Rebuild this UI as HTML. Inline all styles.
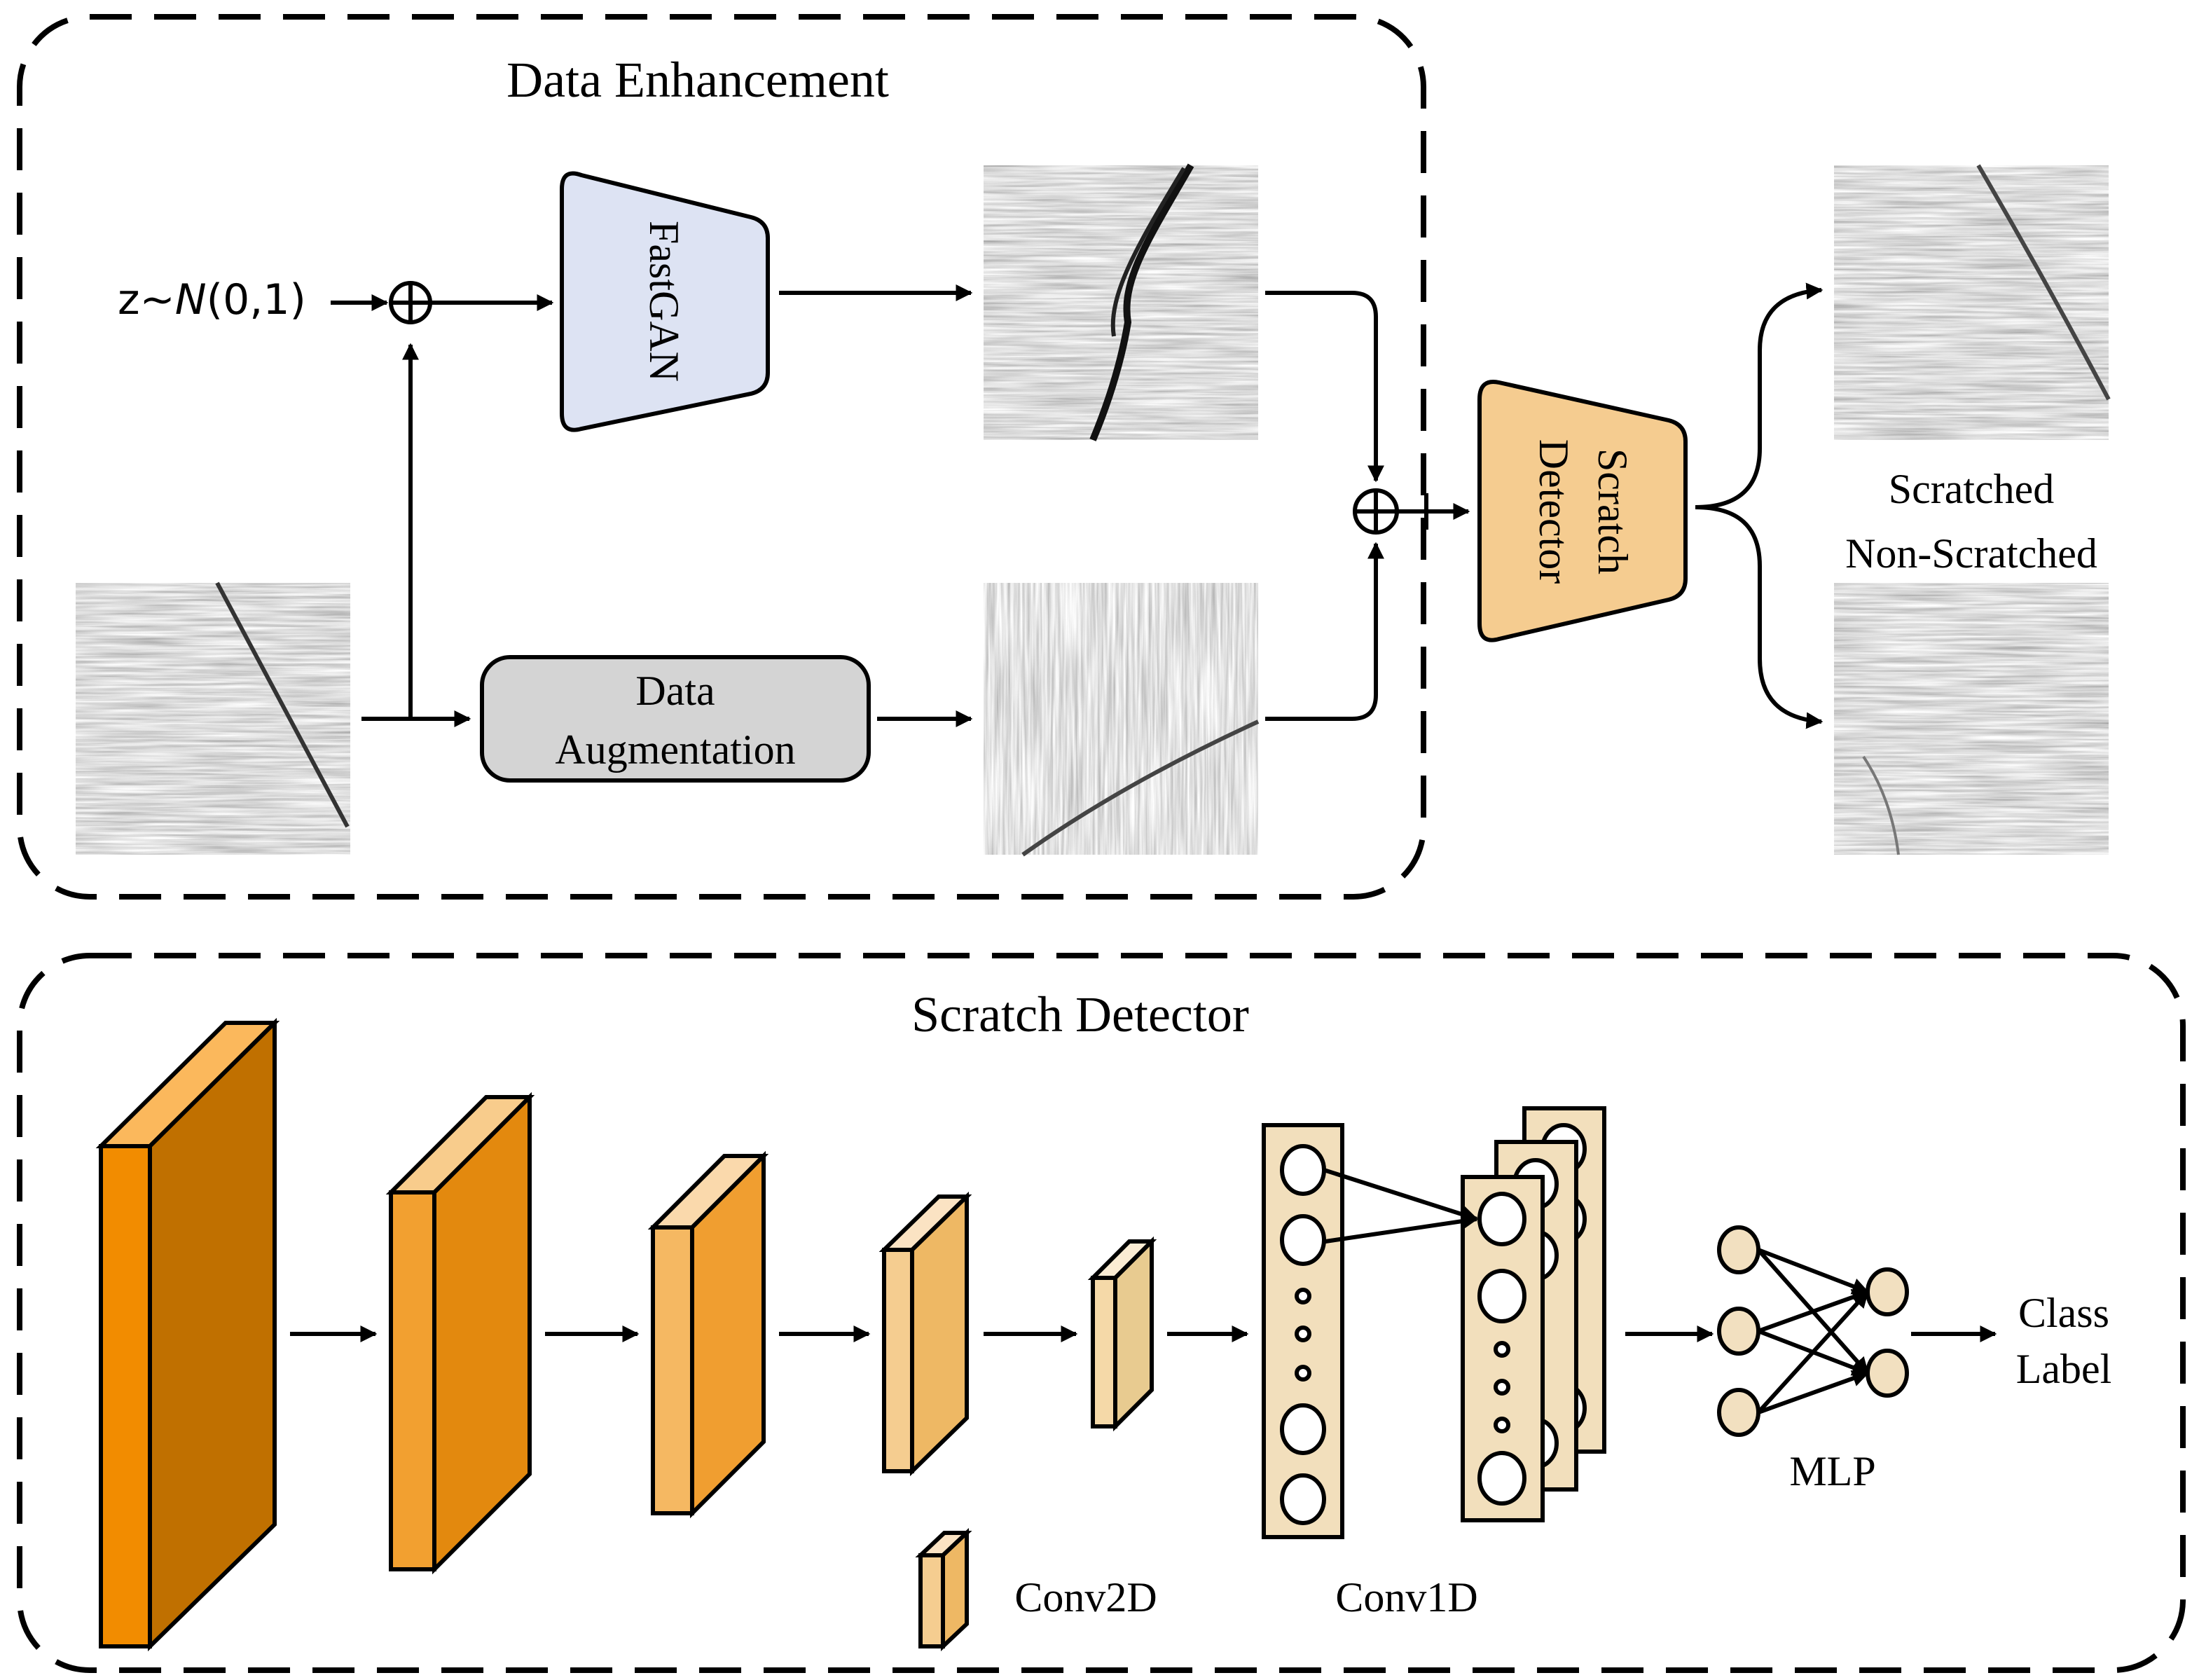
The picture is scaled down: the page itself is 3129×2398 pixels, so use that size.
<!DOCTYPE html>
<html><head><meta charset="utf-8"><style>html,body{margin:0;padding:0;background:#fff}svg{display:block}</style></head><body>
<svg width="3129" height="2398" viewBox="0 0 1564.5 1199" xmlns="http://www.w3.org/2000/svg" font-family="'Liberation Serif', serif">
<defs>
<marker id="ah" viewBox="0 0 10 10" refX="9" refY="5" markerWidth="4" markerHeight="4" orient="auto" markerUnits="strokeWidth"><path d="M0,0 L10,5 L0,10 z" fill="#000"/></marker>
<filter id="th" x="0" y="0" width="1" height="1"><feTurbulence type="fractalNoise" baseFrequency="0.015 0.5" numOctaves="3" seed="3"/><feColorMatrix type="matrix" values="0.8 0 0 0 0.32  0.8 0 0 0 0.32  0.8 0 0 0 0.32  0 0 0 0 1"/></filter>
<filter id="tv" x="0" y="0" width="1" height="1"><feTurbulence type="fractalNoise" baseFrequency="0.5 0.015" numOctaves="3" seed="5"/><feColorMatrix type="matrix" values="0.8 0 0 0 0.36  0.8 0 0 0 0.36  0.8 0 0 0 0.36  0 0 0 0 1"/></filter>
</defs>
<rect width="1564.5" height="1199" fill="#fff"/>
<rect x="14" y="12" width="1002" height="628" rx="50" fill="none" stroke="#000" stroke-width="4" stroke-dasharray="30 16"/>
<rect x="14" y="682" width="1544" height="510" rx="50" fill="none" stroke="#000" stroke-width="4" stroke-dasharray="30 16"/>
<text x="498" y="69" font-size="36" text-anchor="middle">Data Enhancement</text>
<text x="771" y="736" font-size="36" text-anchor="middle">Scratch Detector</text>
<rect x="54" y="416" width="196" height="194" filter="url(#th)"/>
<path d="M155,416 Q200,500 248,590" stroke="#333" stroke-width="3" fill="none"/>
<rect x="702" y="118" width="196" height="196" filter="url(#th)"/>
<path d="M850,118 C820,170 800,200 805,230 C800,260 790,290 780,314" stroke="#111" stroke-width="5" fill="none"/>
<path d="M845,120 C815,170 790,210 795,240" stroke="#222" stroke-width="3" fill="none"/>
<rect x="702" y="416" width="196" height="194" filter="url(#tv)"/>
<path d="M730,610 Q800,560 898,515" stroke="#444" stroke-width="3" fill="none"/>
<rect x="1309" y="118" width="196" height="196" filter="url(#th)"/>
<path d="M1412,118 Q1460,200 1505,285" stroke="#444" stroke-width="3" fill="none"/>
<rect x="1309" y="416" width="196" height="194" filter="url(#th)"/>
<path d="M1330,540 Q1350,570 1355,610" stroke="#777" stroke-width="2" fill="none"/>
<path d="M401,135 Q401,120 415,125 L536,155 Q548,158 548,170 L548,266 Q548,278 536,281 L415,306 Q401,310 401,295 Z" fill="#dde3f3" stroke="#000" stroke-width="3"/>
<text transform="translate(464,215) rotate(90)" font-size="30" text-anchor="middle">FastGAN</text>
<path d="M1056,285 Q1056,270 1070,273 L1191,300 Q1203,303 1203,315 L1203,413 Q1203,425 1191,428 L1070,456 Q1056,460 1056,445 Z" fill="#f5cc90" stroke="#000" stroke-width="3"/>
<text transform="translate(1141,365) rotate(90)" font-size="30" text-anchor="middle">Scratch</text>
<text transform="translate(1099,365) rotate(90)" font-size="30" text-anchor="middle">Detector</text>
<rect x="344" y="469" width="276" height="88" rx="20" fill="#d4d4d4" stroke="#000" stroke-width="3"/>
<text x="482" y="503" font-size="30" text-anchor="middle">Data</text>
<text x="482" y="545" font-size="30" text-anchor="middle">Augmentation</text>
<text x="84" y="224" font-size="30" font-family="'DejaVu Sans', sans-serif">z~<tspan font-style="italic">N</tspan>(0,1)</text>
<g stroke="#000" stroke-width="3" fill="none">
<line x1="236" y1="216" x2="276" y2="216" marker-end="url(#ah)"/>
<circle cx="293" cy="216" r="14"/><line x1="279" y1="216" x2="307" y2="216"/><line x1="293" y1="202" x2="293" y2="230"/>
<line x1="307" y1="216" x2="394" y2="216" marker-end="url(#ah)"/>
<line x1="293" y1="513" x2="293" y2="246" marker-end="url(#ah)"/>
<line x1="258" y1="513" x2="335" y2="513" marker-end="url(#ah)"/>
<line x1="626" y1="513" x2="693" y2="513" marker-end="url(#ah)"/>
<line x1="556" y1="209" x2="693" y2="209" marker-end="url(#ah)"/>
<path d="M903,209 L965,209 Q982,209 982,226 L982,343" marker-end="url(#ah)"/>
<path d="M903,513 L965,513 Q982,513 982,496 L982,388" marker-end="url(#ah)"/>
<circle cx="982" cy="365" r="15"/><line x1="967" y1="365" x2="997" y2="365"/><line x1="982" y1="350" x2="982" y2="380"/>
<line x1="997" y1="365" x2="1048" y2="365" marker-end="url(#ah)"/>
<line x1="1018" y1="352" x2="1018" y2="378"/>
<path d="M1210,362 Q1256,362 1256,320 L1256,250 Q1256,210 1300,207" marker-end="url(#ah)"/>
<path d="M1210,362 Q1256,362 1256,404 L1256,470 Q1256,512 1300,515" marker-end="url(#ah)"/>
</g>
<text x="1407" y="359" font-size="30" text-anchor="middle">Scratched</text>
<text x="1407" y="405" font-size="30" text-anchor="middle">Non-Scratched</text>
<g stroke="#000" stroke-width="3" stroke-linejoin="miter">
<path d="M72,818 L107,818 L196,730 L161,730 Z" fill="#fbb85c"/><path d="M107,818 L196,730 L196,1088 L107,1175 Z" fill="#c07000"/><rect x="72" y="818" width="35" height="357" fill="#f28c00"/>
<path d="M279,851 L310,851 L378,783 L347,783 Z" fill="#f8cc8c"/><path d="M310,851 L378,783 L378,1052 L310,1120 Z" fill="#e3890e"/><rect x="279" y="851" width="31" height="269" fill="#f2a030"/>
<path d="M466,876 L494,876 L545,825 L517,825 Z" fill="#fad9ac"/><path d="M494,876 L545,825 L545,1029 L494,1080 Z" fill="#f09e30"/><rect x="466" y="876" width="28" height="204" fill="#f5b862"/>
<path d="M631,892 L651,892 L690,854 L670,854 Z" fill="#fbe3c3"/><path d="M651,892 L690,854 L690,1012 L651,1050 Z" fill="#eeb864"/><rect x="631" y="892" width="20" height="158" fill="#f5cd90"/>
<path d="M780,912 L796,912 L822,886 L806,886 Z" fill="#fbecd3"/><path d="M796,912 L822,886 L822,992 L796,1018 Z" fill="#e8cb90"/><rect x="780" y="912" width="16" height="106" fill="#f5d9a8"/>
<path d="M657,1110 L673,1110 L690,1094 L674,1094 Z" fill="#fbe3c3"/><path d="M673,1110 L690,1094 L690,1159 L673,1175 Z" fill="#eeb864"/><rect x="657" y="1110" width="16" height="65" fill="#f5cd90"/>
</g>
<text x="775" y="1150" font-size="30" text-anchor="middle">Conv2D</text>
<text x="1004" y="1150" font-size="30" text-anchor="middle">Conv1D</text>
<g stroke="#000" stroke-width="3" fill="none">
<line x1="207" y1="952" x2="268" y2="952" marker-end="url(#ah)"/>
<line x1="389" y1="952" x2="455" y2="952" marker-end="url(#ah)"/>
<line x1="556" y1="952" x2="620" y2="952" marker-end="url(#ah)"/>
<line x1="702" y1="952" x2="768" y2="952" marker-end="url(#ah)"/>
<line x1="833" y1="952" x2="890" y2="952" marker-end="url(#ah)"/>
<line x1="1160" y1="952" x2="1222" y2="952" marker-end="url(#ah)"/>
<line x1="1364" y1="952" x2="1424" y2="952" marker-end="url(#ah)"/>
</g>
<g stroke="#000" stroke-width="3">
<rect x="902" y="803" width="56" height="294" fill="#f2dfbc"/>
<g fill="#fff"><ellipse cx="930" cy="835" rx="15" ry="17"/><ellipse cx="930" cy="885" rx="15" ry="17"/><ellipse cx="930" cy="1020" rx="15" ry="17"/><ellipse cx="930" cy="1070" rx="15" ry="17"/>
<circle cx="930" cy="925" r="4.5"/><circle cx="930" cy="952" r="4.5"/><circle cx="930" cy="980" r="4.5"/></g>
<rect x="1088" y="791" width="57" height="245" fill="#f2dfbc"/>
<g fill="#fff"><ellipse cx="1116" cy="820" rx="15" ry="17"/><ellipse cx="1116" cy="870" rx="15" ry="17"/><ellipse cx="1116" cy="1005" rx="15" ry="17"/></g>
<rect x="1068" y="815" width="57" height="248" fill="#f2dfbc"/>
<g fill="#fff"><ellipse cx="1096" cy="845" rx="15" ry="17"/><ellipse cx="1096" cy="896" rx="15" ry="17"/><ellipse cx="1096" cy="1030" rx="15" ry="17"/></g>
<rect x="1044" y="840" width="57" height="245" fill="#f2dfbc"/>
<g fill="#fff"><ellipse cx="1072" cy="870" rx="16" ry="18"/><ellipse cx="1072" cy="925" rx="16" ry="18"/><ellipse cx="1072" cy="1055" rx="16" ry="18"/>
<circle cx="1072" cy="963" r="4.5"/><circle cx="1072" cy="990" r="4.5"/><circle cx="1072" cy="1017" r="4.5"/></g>
<line x1="945" y1="835" x2="1054" y2="870" marker-end="url(#ah)"/>
<line x1="946" y1="886" x2="1054" y2="870" marker-end="url(#ah)"/>
</g>
<g stroke="#000" stroke-width="3" fill="none">
<line x1="1255" y1="892" x2="1333" y2="922" marker-end="url(#ah)"/>
<line x1="1255" y1="892" x2="1333" y2="980" marker-end="url(#ah)"/>
<line x1="1255" y1="950" x2="1333" y2="922" marker-end="url(#ah)"/>
<line x1="1255" y1="950" x2="1333" y2="980" marker-end="url(#ah)"/>
<line x1="1255" y1="1008" x2="1333" y2="922" marker-end="url(#ah)"/>
<line x1="1255" y1="1008" x2="1333" y2="980" marker-end="url(#ah)"/>
</g>
<g stroke="#000" stroke-width="3" fill="#f2e0c0">
<ellipse cx="1241" cy="892" rx="14" ry="16"/><ellipse cx="1241" cy="950" rx="14" ry="16"/><ellipse cx="1241" cy="1008" rx="14" ry="16"/>
<ellipse cx="1347" cy="922" rx="14" ry="16"/><ellipse cx="1347" cy="980" rx="14" ry="16"/>
</g>
<text x="1308" y="1060" font-size="30" text-anchor="middle">MLP</text>
<text x="1473" y="947" font-size="30" text-anchor="middle">Class</text>
<text x="1473" y="987" font-size="30" text-anchor="middle">Label</text>
</svg>
</body></html>
